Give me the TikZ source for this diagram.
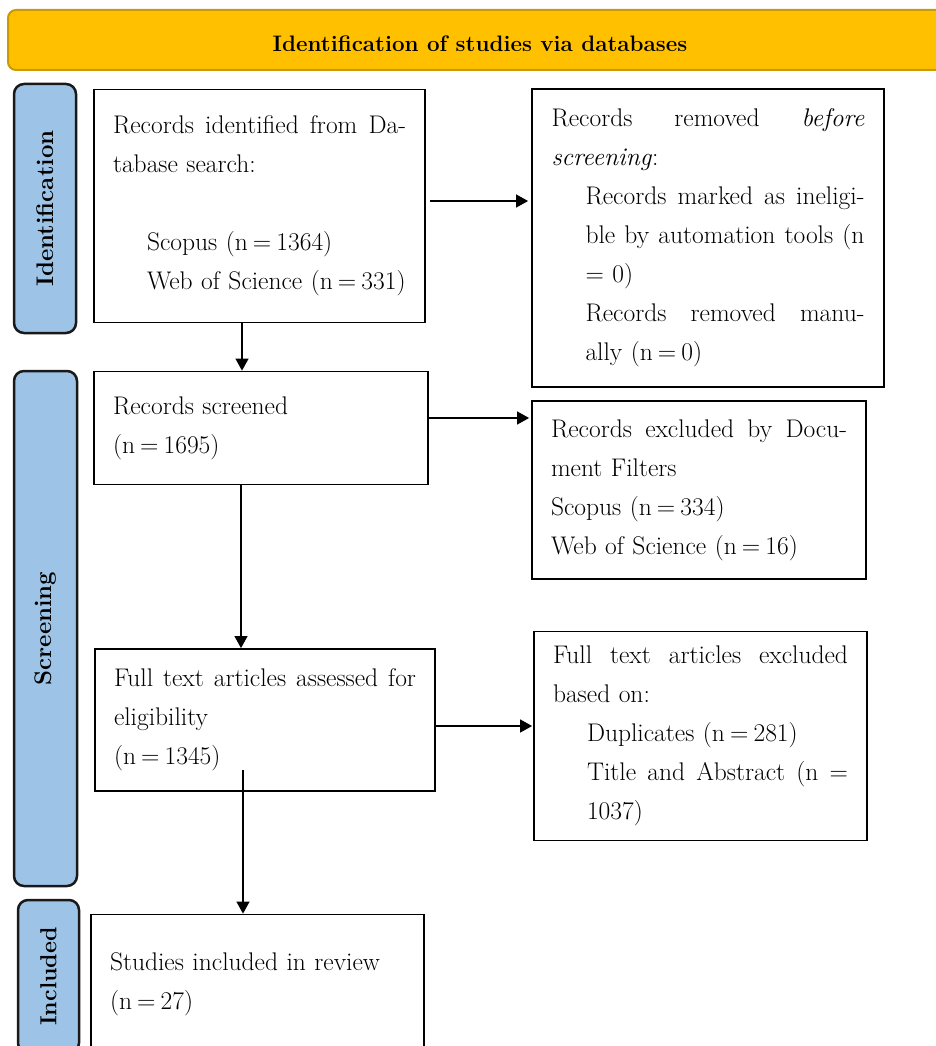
\documentclass[tikz,border=0pt]{standalone}
\usetikzlibrary{arrows.meta}
\definecolor{hdrfill}{HTML}{FFC000}
\definecolor{hdrdraw}{HTML}{C99A06}
\definecolor{sidefill}{HTML}{9DC3E6}
\newcommand\jl[2]{\makebox[#1][s]{\spaceskip=0pt\relax\xspaceskip=0pt\relax #2}}
\newcommand\ind{\hspace*{34pt}}
\newcommand\eq{\hspace{0.2em}=\hspace{0.2em}}
\begin{document}
\begin{tikzpicture}[x=1pt,y=-1pt,
  body/.style={font=\fontsize{25.5}{39}\selectfont},
  box/.style={draw=black, line width=1.8pt, rectangle, inner xsep=19pt, inner ysep=0pt, align=left, body},
  side/.style={draw=black!90, fill=sidefill, line width=2.5pt, rounded corners=10pt, rotate=90,
    font=\bfseries\fontsize{24}{28}\selectfont, inner sep=0pt},
  arr/.style={line width=1.2pt, -{Triangle[length=12pt,width=13pt]}},
]
\useasboundingbox (0,0) rectangle (936,1046);
\clip (0,0) rectangle (936,1046);

% header
\node[draw=hdrdraw, fill=hdrfill, line width=2pt, rounded corners=8pt,
  minimum width=944pt, minimum height=60pt, text height=24pt, text depth=0pt,
  font=\bfseries\fontsize{22.4}{26}\selectfont] (hdr) at (480,40) {Identification of studies via databases};

% side labels
\node[side, minimum width=249pt, minimum height=62pt] (sid) at (45,208.5) {Identification};
\node[side, minimum width=515pt, minimum height=63pt] (ssc) at (45.5,628.5) {Screening};
\node[side, minimum width=153pt, minimum height=61pt, font=\bfseries\fontsize{23.2}{28}\selectfont] (sin) at (48.5,976.5) {Included};

% boxes
\node[box, minimum width=331pt, minimum height=233pt, text width=293pt] (b1) at (259.5,206)
  {\jl{293pt}{Records identified from Da-}\\ tabase search:\\[39pt]
   \ind Scopus (n\eq 1364)\\ \ind\mbox{Web of Science (n\eq 331)}};

\node[box, inner xsep=19.5pt, minimum width=352pt, minimum height=298pt, text width=313pt] (r1) at (708,238)
  {\jl{313pt}{Records removed \emph{before}}\\
   \emph{screening}:\\
   \ind\jl{279pt}{Records marked as ineligi-}\\
   \ind\jl{279pt}{ble by automation tools (n}\\
   \ind = 0)\\
   \ind\jl{279pt}{Records removed manu-}\\
   \ind ally (n\eq 0)};

\node[box, minimum width=334pt, minimum height=113pt, text width=296pt] (b2) at (261,428)
  {Records screened\\ (n\eq 1695)};

\node[box, minimum width=334pt, minimum height=178pt, text width=296pt] (r2) at (699,490)
  {\jl{296pt}{Records excluded by Docu-}\\ ment Filters\\ Scopus (n\eq 334)\\ Web of Science (n\eq 16)};

\node[box, minimum width=340pt, minimum height=142pt, text width=302pt] (b3) at (265,720)
  {\jl{302pt}{Full text articles assessed for}\\ eligibility\\ (n\eq 1345)};

\node[box, minimum width=333pt, minimum height=209pt, text width=295pt] (r3) at (700.5,736)
  {\jl{295pt}{Full text articles excluded}\\ based on:\\
   \ind Duplicates (n\eq 281)\\
   \ind\jl{261pt}{Title and Abstract (n =}\\
   \ind 1037)};

\node[box, minimum width=333pt, minimum height=139pt, text width=295pt] (b4) at (257.5,984)
  {Studies included in review\\ (n\eq 27)};

% connector helpers
\coordinate (h1) at (0,201);
\coordinate (h2) at (0,418);
\coordinate (h3) at (0,726);
\coordinate (v1) at (242,0);
\coordinate (v2) at (241,0);
\coordinate (s3) at (243,770);

% connectors
\draw[arr] ([xshift=4pt]b1.east |- h1) -- ([xshift=-3pt]r1.west |- h1);
\draw[arr] (b2.east |- h2) -- ([xshift=-2pt]r2.west |- h2);
\draw[arr] (b3.east |- h3) -- ([xshift=-1pt]r3.west |- h3);
\draw[arr] (b1.south -| v1) -- (b2.north -| v1);
\draw[arr] (b2.south -| v2) -- (b3.north -| v2);
\draw[arr] (s3) -- (b4.north -| s3);
\end{tikzpicture}
\end{document}
